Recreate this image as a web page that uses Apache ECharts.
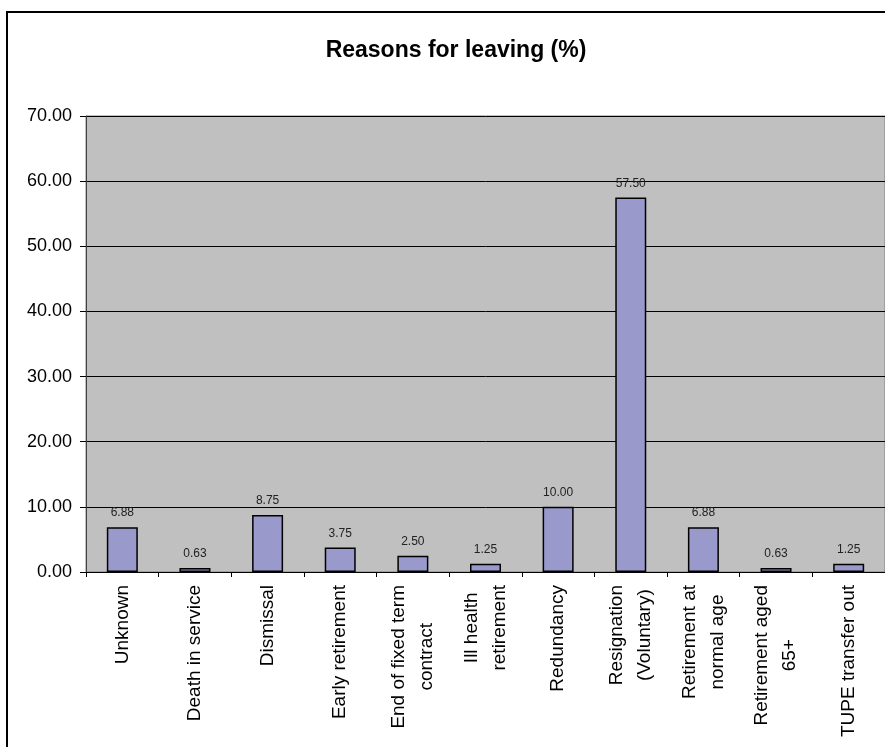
<!DOCTYPE html>
<html>
<head>
<meta charset="utf-8">
<script src="https://cdn.jsdelivr.net/npm/echarts@6/dist/echarts.min.js"></script>
<style>
html,body{margin:0;padding:0;background:#fff;}
#chart{width:885px;height:747px;}
</style>
</head>
<body>
<div id="chart"></div>
<script>
var categories = ["Unknown", "Death in service", "Dismissal", "Early retirement", "End of fixed term\ncontract", "Ill health\nretirement", "Redundancy", "Resignation\n(Voluntary)", "Retirement at\nnormal age", "Retirement aged\n65+", "TUPE transfer out"];
var values = [6.88, 0.63, 8.75, 3.75, 2.50, 1.25, 10.00, 57.50, 6.88, 0.63, 1.25];
var yTicks = [0, 10, 20, 30, 40, 50, 60, 70];
var titleText = "Reasons for leaving (%)";

var chart = echarts.init(document.getElementById('chart'), null, {renderer: 'canvas'});
var font = '"Liberation Sans", Arial, sans-serif';
chart.setOption({
  animation: false,
  backgroundColor: '#ffffff',
  graphic: [
    {type: 'rect', shape: {x: 7, y: 12, width: 900, height: 800}, style: {fill: 'none', stroke: '#000', lineWidth: 2}, silent: true, z: -10},
    {type: 'text', x: 456, y: 51, style: {text: titleText, font: 'bold 23px ' + font, fill: '#000', textAlign: 'center', textVerticalAlign: 'middle'}}
  ],
  grid: {left: 86, top: 116, width: 800, height: 456, show: true, backgroundColor: '#c0c0c0', borderColor: '#808080', borderWidth: 1, containLabel: false},
  xAxis: {
    type: 'category',
    data: categories,
    axisLine: {lineStyle: {color: '#000', width: 1}},
    axisTick: {show: true, length: 5, lineStyle: {color: '#000'}},
    axisLabel: {
      interval: 0, rotate: 90, margin: 13,
      fontFamily: font, fontSize: 19, color: '#000',
      formatter: function (v) { return v.split('\n').map(function (s) { return '{a|' + s + '}'; }).join('\n'); },
      rich: {a: {fontFamily: font, fontSize: 19, lineHeight: 28, align: 'center', color: '#000'}}
    },
    splitLine: {show: false}
  },
  yAxis: {
    type: 'value', min: yTicks[0], max: yTicks[yTicks.length - 1], interval: 10,
    axisLine: {show: true, lineStyle: {color: '#404040', width: 1}},
    axisTick: {show: true, length: 6, lineStyle: {color: '#000'}},
    axisLabel: {fontFamily: font, fontSize: 18, color: '#000', margin: 14, formatter: function (v) { return v.toFixed(2); }},
    splitLine: {show: true, lineStyle: {color: '#000', width: 1}}
  },
  series: [{
    type: 'bar',
    data: values,
    barWidth: 31,
    itemStyle: {color: '#9999cc', borderColor: '#000', borderWidth: 1.5},
    label: {show: true, position: 'top', distance: 8, fontFamily: font, fontSize: 12, color: '#222', formatter: function (p) { return p.value.toFixed(2); }}
  }]
});
</script>
</body>
</html>
